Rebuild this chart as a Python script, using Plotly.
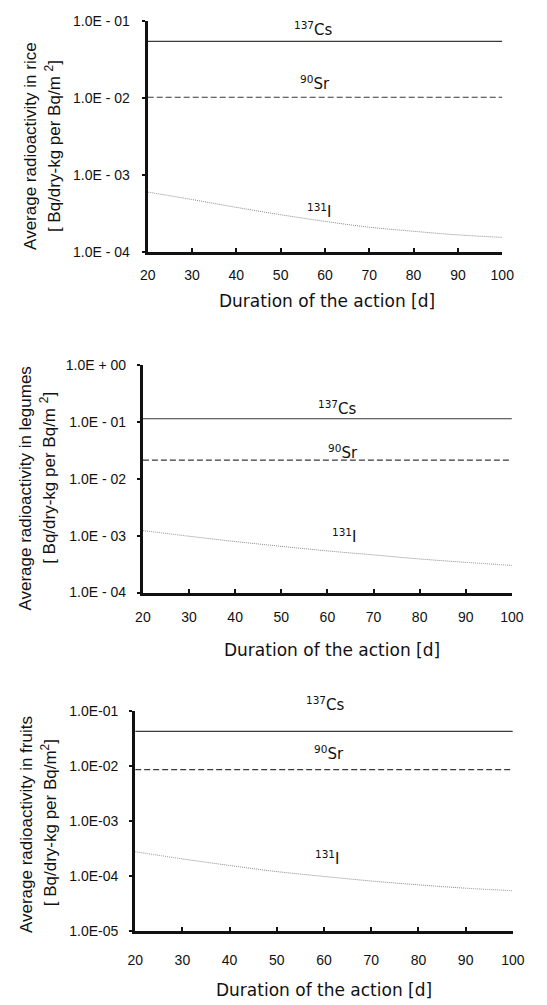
import plotly.graph_objects as go

W, H = 547, 1005

# Duration of the action [d]
days = [20, 30, 40, 50, 60, 70, 80, 90, 100]

# Average radioactivity [Bq/dry-kg per Bq/m2]
rice_cs = [0.054] * 9
rice_sr = [0.0102] * 9
rice_i = [6.0e-4, 4.8e-4, 3.8e-4, 3.05e-4, 2.5e-4, 2.1e-4, 1.86e-4, 1.67e-4, 1.55e-4]

legumes_cs = [0.114] * 9
legumes_sr = [0.0214] * 9
legumes_i = [1.23e-3, 9.8e-4, 7.9e-4, 6.5e-4, 5.4e-4, 4.6e-4, 3.9e-4, 3.4e-4, 3.0e-4]

fruits_cs = [0.042] * 9
fruits_sr = [0.0085] * 9
fruits_i = [2.75e-4, 2.04e-4, 1.55e-4, 1.2e-4, 9.8e-5, 8.1e-5, 6.9e-5, 6.0e-5, 5.4e-5]

x_ticks = [20, 30, 40, 50, 60, 70, 80, 90, 100]
rice_yticks = [1e-4, 1e-3, 1e-2, 1e-1]
rice_ytext = ["1.0E - 04", "1.0E - 03", "1.0E - 02", "1.0E - 01"]
legumes_yticks = [1e-4, 1e-3, 1e-2, 1e-1, 1e0]
legumes_ytext = ["1.0E - 04", "1.0E - 03", "1.0E - 02", "1.0E - 01", "1.0E + 00"]
fruits_yticks = [1e-5, 1e-4, 1e-3, 1e-2, 1e-1]
fruits_ytext = ["1.0E-05", "1.0E-04", "1.0E-03", "1.0E-02", "1.0E-01"]

FONT = "Liberation Sans, Arial, sans-serif"
WIDE = "DejaVu Sans, sans-serif"
INK = "#111111"


def px_x(p):
    return p / W


def px_y(p):
    return 1 - p / H


panels = [
    dict(cs=rice_cs, sr=rice_sr, i=rice_i, yt=rice_yticks, ytt=rice_ytext,
         xd=(145, 513), yd=(13, 248), yr=(-4, -1), xstand=8, ystand=9,
         ylines=[("Average radioactivity in rice", 24, 140),
                 ("[ Bq/dry-kg per Bq/m <sup>2</sup>]", 46, 140)],
         xt=(331, 298),
         lab=[(57.5, 21, "<sup>137</sup>Cs"), (57.8, 76, "<sup>90</sup>Sr"), (58.6, 206, "<sup>131</sup>I")]),
    dict(cs=legumes_cs, sr=legumes_sr, i=legumes_i, yt=legumes_yticks, ytt=legumes_ytext,
         xd=(140, 523), yd=(363, 594), yr=(-4, 0), xstand=10, ystand=8,
         ylines=[("Average radioactivity in legumes", 18, 488),
                 ("[ Bq/dry-kg per Bq/m <sup>2</sup>]", 42, 477)],
         xt=(336, 652),
         lab=[(62.2, 406, "<sup>137</sup>Cs"), (63.3, 451, "<sup>90</sup>Sr"), (63.6, 537, "<sup>131</sup>I")]),
    dict(cs=fruits_cs, sr=fruits_sr, i=fruits_i, yt=fruits_yticks, ytt=fruits_ytext,
         xd=(132, 524), yd=(714, 938), yr=(-5, -1), xstand=14, ystand=8,
         ylines=[("Average radioactivity in fruits", 20, 830),
                 ("[ Bq/dry-kg per Bq/m<sup>2</sup>]", 42, 828)],
         xt=(328, 998),
         lab=[(60.4, 707, "<sup>137</sup>Cs"), (61.0, 757, "<sup>90</sup>Sr"), (60.7, 864, "<sup>131</sup>I")]),
]

fig = go.Figure()
annotations = []
layout_axes = {}

for k, p in enumerate(panels, start=1):
    xa = "x" if k == 1 else f"x{k}"
    ya = "y" if k == 1 else f"y{k}"
    fig.add_trace(go.Scatter(x=days, y=p["cs"], mode="lines", xaxis=xa, yaxis=ya,
                             line=dict(color="#3a3a3a", width=1.1), showlegend=False))
    fig.add_trace(go.Scatter(x=days, y=p["sr"], mode="lines", xaxis=xa, yaxis=ya,
                             line=dict(color="#3a3a3a", width=1.1, dash="6px,3px"), showlegend=False))
    fig.add_trace(go.Scatter(x=days, y=p["i"], mode="lines", xaxis=xa, yaxis=ya,
                             line=dict(color="#8a8a8a", width=1, dash="1px,1px", shape="spline"),
                             showlegend=False))

    xkey = "xaxis" if k == 1 else f"xaxis{k}"
    ykey = "yaxis" if k == 1 else f"yaxis{k}"
    layout_axes[xkey] = dict(
        domain=[px_x(p["xd"][0]), px_x(p["xd"][1])], anchor=ya,
        range=[20, 100], tickvals=x_ticks, ticks="inside", ticklen=4, tickwidth=2,
        tickcolor=INK, showline=True, linewidth=3, linecolor=INK, showgrid=False,
        zeroline=False, ticklabelstandoff=p["xstand"],
        tickfont=dict(family=FONT, size=14, color=INK),
    )
    layout_axes[ykey] = dict(
        domain=[px_y(p["yd"][1]), px_y(p["yd"][0])], anchor=xa, type="log",
        range=list(p["yr"]), tickvals=p["yt"], ticktext=p["ytt"],
        ticks="outside", ticklen=3, tickwidth=2, tickcolor=INK,
        showline=True, linewidth=3, linecolor=INK, showgrid=False, zeroline=False,
        ticklabelstandoff=p["ystand"],
        tickfont=dict(family=FONT, size=14, color=INK),
    )

    annotations.append(dict(text="Duration of the action [d]", xref="paper", yref="paper",
                            x=px_x(p["xt"][0]), y=px_y(p["xt"][1]), showarrow=False,
                            xanchor="center", yanchor="middle",
                            font=dict(family=WIDE, size=17, color=INK)))
    for (txt, tx, ty) in p["ylines"]:
        annotations.append(dict(text=txt, xref="paper", yref="paper", textangle=-90,
                                x=px_x(tx), y=px_y(ty), showarrow=False,
                                xanchor="center", yanchor="middle",
                                font=dict(family=FONT, size=17, color=INK)))
    for (lx, ly, lt) in p["lab"]:
        annotations.append(dict(text=lt, xref=xa, yref="paper", x=lx, y=px_y(ly),
                                showarrow=False, xanchor="center", yanchor="middle",
                                font=dict(family=WIDE, size=15, color=INK)))

fig.update_layout(
    width=W, height=H, margin=dict(l=0, r=0, t=0, b=0),
    paper_bgcolor="white", plot_bgcolor="white",
    annotations=annotations, **layout_axes,
)

fig.write_html("out.html")
